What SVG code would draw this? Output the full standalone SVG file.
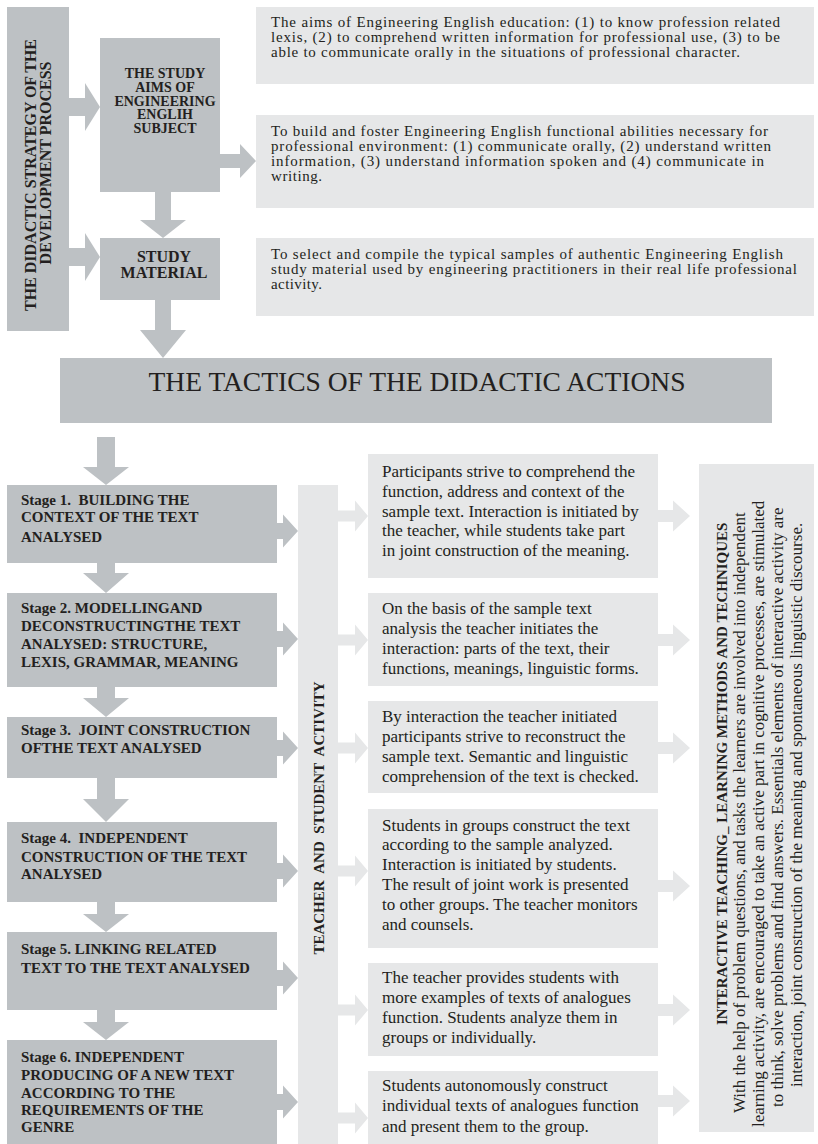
<svg xmlns="http://www.w3.org/2000/svg" width="818" height="1144" viewBox="0 0 818 1144">
<style>
text { font-family: "Liberation Serif", "Times New Roman", serif; fill: #231f20; }
.dk { fill: #bdc1c4; }
.lt { fill: #e6e7e8; }
.body { font-size: 17px; }
.top { font-size: 15px; }
.stage { font-size: 15px; font-weight: bold; }
.b { font-weight: bold; }
.ctr { text-anchor: middle; }
</style>
<rect width="818" height="1144" fill="#ffffff"/>

<g id="connectors">
  <!-- top section -->
  <polygon class="dk" points="69,98 85,98 85,83 100,107 85,131 85,116 69,116"/>
  <polygon class="dk" points="69,248 85,248 85,233 100,257 85,281 85,266 69,266"/>
  <polygon class="dk" points="220,154 240,154 240,144 256,161 240,178 240,168 220,168"/>
  <polygon class="dk" points="155,192 171,192 171,220 186,220 163,238 140,220 155,220"/>
  <polygon class="dk" points="155,300 171,300 171,330 186,330 163,358 140,330 155,330"/>
  <!-- banner to stage 1 -->
  <polygon class="dk" points="97,437 115,437 115,467 129,467 106,485 83,467 97,467"/>
  <!-- stage to stage -->
  <polygon class="dk" points="97,563 115,563 115,573 129,573 106,593 83,573 97,573"/>
  <polygon class="dk" points="97,687 115,687 115,698 129,698 106,717 83,698 97,698"/>
  <polygon class="dk" points="97,778 115,778 115,799 129,799 106,822 83,799 97,799"/>
  <polygon class="dk" points="97,902 115,902 115,914 129,914 106,932 83,914 97,914"/>
  <polygon class="dk" points="97,1010 115,1010 115,1022 129,1022 106,1040 83,1022 97,1022"/>
  <!-- stage to teacher bar -->
  <polygon class="dk" points="277,523 283,523 283,514.5 298,531 283,547.5 283,539 277,539"/>
  <polygon class="dk" points="277,631 283,631 283,622.5 298,639 283,655.5 283,647 277,647"/>
  <polygon class="dk" points="277,740 283,740 283,731.5 298,748 283,764.5 283,756 277,756"/>
  <polygon class="dk" points="277,863 283,863 283,854.5 298,871 283,887.5 283,879 277,879"/>
  <polygon class="dk" points="277,970 283,970 283,961.5 298,978 283,994.5 283,986 277,986"/>
  <polygon class="dk" points="277,1094 283,1094 283,1085.5 298,1102 283,1118.5 283,1110 277,1110"/>
  <!-- teacher bar to middle boxes -->
  <polygon class="lt" points="338,510.5 355,510.5 355,500.5 368,516 355,531.5 355,521.5 338,521.5"/>
  <polygon class="lt" points="338,634.5 355,634.5 355,624.5 368,640 355,655.5 355,645.5 338,645.5"/>
  <polygon class="lt" points="338,742.5 355,742.5 355,732.5 368,748 355,763.5 355,753.5 338,753.5"/>
  <polygon class="lt" points="338,865.5 355,865.5 355,855.5 368,871 355,886.5 355,876.5 338,876.5"/>
  <polygon class="lt" points="338,1004.5 355,1004.5 355,994.5 368,1010 355,1025.5 355,1015.5 338,1015.5"/>
  <polygon class="lt" points="338,1112.5 355,1112.5 355,1102.5 368,1118 355,1133.5 355,1123.5 338,1123.5"/>
  <!-- middle boxes to right box -->
  <polygon class="lt" points="658,510 673,510 673,500.5 690,516 673,531.5 673,522 658,522"/>
  <polygon class="lt" points="658,634 673,634 673,624.5 690,640 673,655.5 673,646 658,646"/>
  <polygon class="lt" points="658,742 673,742 673,732.5 690,748 673,763.5 673,754 658,754"/>
  <polygon class="lt" points="658,880 673,880 673,870.5 690,886 673,901.5 673,892 658,892"/>
  <polygon class="lt" points="658,1004 673,1004 673,994.5 690,1010 673,1025.5 673,1016 658,1016"/>
  <polygon class="lt" points="658,1095 673,1095 673,1085.5 690,1101 673,1116.5 673,1107 658,1107"/>
</g>

<g id="strategy">
  <rect class="dk" x="7" y="7" width="62" height="324"/>
  <text class="b ctr" font-size="16" transform="translate(36,175) rotate(-90)">THE DIDACTIC STRATEGY OF THE</text>
  <text class="b ctr" font-size="16" transform="translate(50.5,163) rotate(-90)">DEVELOPMENT PROCESS</text>
</g>

<g id="aims">
  <rect class="dk" x="100" y="38" width="120" height="154"/>
  <text class="b ctr" font-size="14" x="165" y="78">THE STUDY</text>
  <text class="b ctr" font-size="14" x="165" y="92">AIMS OF</text>
  <text class="b ctr" font-size="14" x="165" y="105.5">ENGINEERING</text>
  <text class="b ctr" font-size="14" x="165" y="119">ENGLIH</text>
  <text class="b ctr" font-size="14" x="165" y="132.5">SUBJECT</text>
</g>

<g id="material">
  <rect class="dk" x="100" y="238" width="120" height="62"/>
  <text class="b ctr" font-size="16" x="164" y="262">STUDY</text>
  <text class="b ctr" font-size="16" x="164" y="278">MATERIAL</text>
</g>

<g id="aims-text">
  <rect class="lt" x="256" y="7" width="558" height="77"/>
  <text class="top" x="271" y="27" textLength="509" lengthAdjust="spacing">The aims of Engineering English education: (1) to know profession related</text>
  <text class="top" x="271" y="42" textLength="509" lengthAdjust="spacing">lexis, (2) to comprehend written information for professional use, (3) to be</text>
  <text class="top" x="271" y="57" textLength="469" lengthAdjust="spacing">able to communicate orally in the situations of professional character.</text>
</g>

<g id="abilities-text">
  <rect class="lt" x="256" y="115" width="558" height="93"/>
  <text class="top" x="271" y="135.5" textLength="497" lengthAdjust="spacing">To build and foster Engineering English functional abilities necessary for</text>
  <text class="top" x="271" y="150.5" textLength="500" lengthAdjust="spacing">professional environment: (1) communicate orally, (2) understand written</text>
  <text class="top" x="271" y="165.5" textLength="493" lengthAdjust="spacing">information, (3) understand information spoken and (4) communicate in</text>
  <text class="top" x="271" y="180.5" textLength="51" lengthAdjust="spacing">writing.</text>
</g>

<g id="material-text">
  <rect class="lt" x="256" y="238" width="558" height="78"/>
  <text class="top" x="271" y="258.5" textLength="512" lengthAdjust="spacing">To select and compile the typical samples of authentic Engineering English</text>
  <text class="top" x="271" y="273.5" textLength="526" lengthAdjust="spacing">study material used by engineering practitioners in their real life professional</text>
  <text class="top" x="271" y="288.5" textLength="51" lengthAdjust="spacing">activity.</text>
</g>

<g id="tactics">
  <rect class="dk" x="60" y="358" width="712" height="65"/>
  <text class="ctr" font-size="27.5" x="417" y="391">THE TACTICS OF THE DIDACTIC ACTIONS</text>
</g>

<g id="stage1">
  <rect class="dk" x="7" y="485" width="270" height="78"/>
  <text class="stage" x="21" y="505" xml:space="preserve">Stage 1.  BUILDING THE</text>
  <text class="stage" x="21" y="522">CONTEXT OF THE TEXT</text>
  <text class="stage" x="21" y="542">ANALYSED</text>
</g>
<g id="stage2">
  <rect class="dk" x="7" y="593" width="270" height="94"/>
  <text class="stage" x="21" y="613">Stage 2. MODELLINGAND</text>
  <text class="stage" x="21" y="631">DECONSTRUCTINGTHE TEXT</text>
  <text class="stage" x="21" y="649">ANALYSED: STRUCTURE,</text>
  <text class="stage" x="21" y="667">LEXIS, GRAMMAR, MEANING</text>
</g>
<g id="stage3">
  <rect class="dk" x="7" y="717" width="270" height="61"/>
  <text class="stage" x="21" y="735" xml:space="preserve">Stage 3.  JOINT CONSTRUCTION</text>
  <text class="stage" x="21" y="753">OFTHE TEXT ANALYSED</text>
</g>
<g id="stage4">
  <rect class="dk" x="7" y="822" width="270" height="80"/>
  <text class="stage" x="21" y="843" xml:space="preserve">Stage 4.  INDEPENDENT</text>
  <text class="stage" x="21" y="862">CONSTRUCTION OF THE TEXT</text>
  <text class="stage" x="21" y="879">ANALYSED</text>
</g>
<g id="stage5">
  <rect class="dk" x="7" y="932" width="270" height="78"/>
  <text class="stage" x="21" y="954">Stage 5. LINKING RELATED</text>
  <text class="stage" x="21" y="973">TEXT TO THE TEXT ANALYSED</text>
</g>
<g id="stage6">
  <rect class="dk" x="7" y="1040" width="270" height="104"/>
  <text class="stage" x="21" y="1062">Stage 6. INDEPENDENT</text>
  <text class="stage" x="21" y="1080">PRODUCING OF A NEW TEXT</text>
  <text class="stage" x="21" y="1098">ACCORDING TO THE</text>
  <text class="stage" x="21" y="1115">REQUIREMENTS OF THE</text>
  <text class="stage" x="21" y="1132">GENRE</text>
</g>

<g id="teacher-student">
  <rect class="lt" x="298" y="485" width="40" height="659"/>
  <text class="b ctr" font-size="15" transform="translate(324,818) rotate(-90)" xml:space="preserve">TEACHER  AND  STUDENT  ACTIVITY</text>
</g>

<g id="activity1">
  <rect class="lt" x="368" y="454" width="290" height="124"/>
  <text class="body" x="382" y="477">Participants strive to comprehend the</text>
  <text class="body" x="382" y="497">function, address and context of the</text>
  <text class="body" x="382" y="517">sample text. Interaction is initiated by</text>
  <text class="body" x="382" y="536">the teacher, while students take part</text>
  <text class="body" x="382" y="556">in joint construction of the meaning.</text>
</g>
<g id="activity2">
  <rect class="lt" x="368" y="593" width="290" height="93"/>
  <text class="body" x="382" y="614">On the basis of the sample text</text>
  <text class="body" x="382" y="634">analysis the teacher initiates the</text>
  <text class="body" x="382" y="654">interaction: parts of the text, their</text>
  <text class="body" x="382" y="674">functions, meanings, linguistic forms.</text>
</g>
<g id="activity3">
  <rect class="lt" x="368" y="701" width="290" height="92"/>
  <text class="body" x="382" y="722">By interaction the teacher initiated</text>
  <text class="body" x="382" y="742">participants strive to reconstruct the</text>
  <text class="body" x="382" y="762">sample text. Semantic and linguistic</text>
  <text class="body" x="382" y="782">comprehension of the text is checked.</text>
</g>
<g id="activity4">
  <rect class="lt" x="368" y="809" width="290" height="139"/>
  <text class="body" x="382" y="831">Students in groups construct the text</text>
  <text class="body" x="382" y="850">according to the sample analyzed.</text>
  <text class="body" x="382" y="870">Interaction is initiated by students.</text>
  <text class="body" x="382" y="890">The result of joint work is presented</text>
  <text class="body" x="382" y="910">to other groups. The teacher monitors</text>
  <text class="body" x="382" y="930">and counsels.</text>
</g>
<g id="activity5">
  <rect class="lt" x="368" y="963" width="290" height="93"/>
  <text class="body" x="382" y="983">The teacher provides students with</text>
  <text class="body" x="382" y="1003">more examples of texts of analogues</text>
  <text class="body" x="382" y="1023">function. Students analyze them in</text>
  <text class="body" x="382" y="1043">groups or individually.</text>
</g>
<g id="activity6">
  <rect class="lt" x="368" y="1071" width="290" height="73"/>
  <text class="body" x="382" y="1091">Students autonomously construct</text>
  <text class="body" x="382" y="1111">individual texts of analogues function</text>
  <text class="body" x="382" y="1132">and present them to the group.</text>
</g>

<g id="interactive">
  <rect class="lt" x="699" y="464" width="115" height="668"/>
  <text class="b" font-size="15" transform="translate(727,1025) rotate(-90)">INTERACTIVE TEACHING_ LEARNING METHODS AND TECHNIQUES</text>
  <text class="body" transform="translate(745,1113) rotate(-90)">With the help of problem questions, and tasks the learners are involved into independent</text>
  <text class="body" transform="translate(764,1127) rotate(-90)">learning activity, are encouraged to take an active part in cognitive processes, are stimulated</text>
  <text class="body" transform="translate(783,1107) rotate(-90)">to think, solve problems and find answers. Essentials elements of interactive activity are</text>
  <text class="body" transform="translate(802,1087) rotate(-90)">interaction, joint construction of the meaning and spontaneous linguistic discourse.</text>
</g>
</svg>
